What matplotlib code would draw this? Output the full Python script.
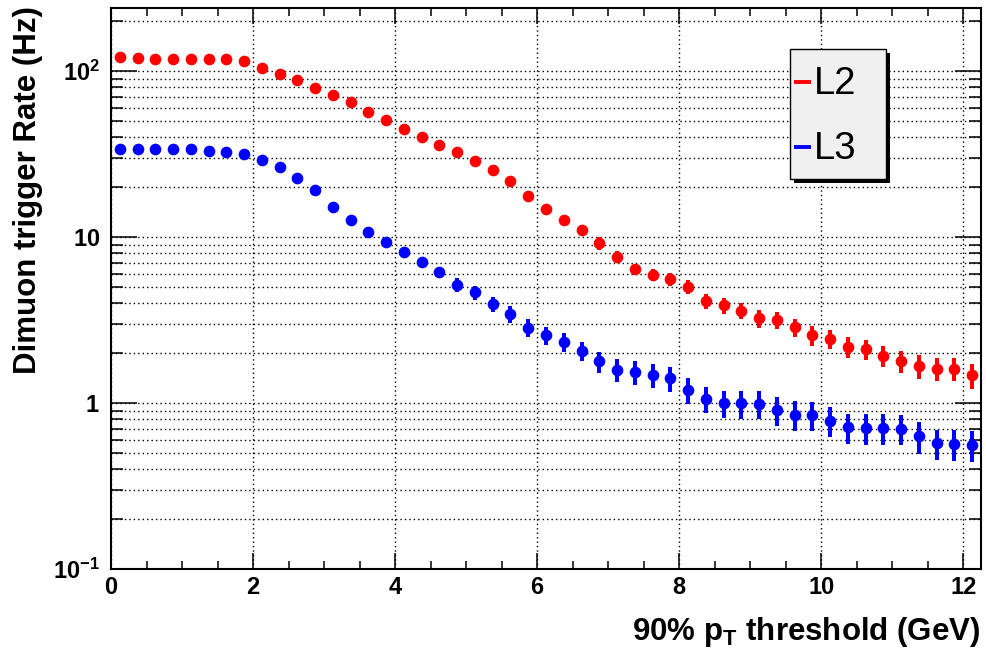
import matplotlib
matplotlib.use('Agg')
import matplotlib.pyplot as plt
from matplotlib.patches import Rectangle
from matplotlib.lines import Line2D
from matplotlib.ticker import FixedLocator, FixedFormatter, MultipleLocator, NullFormatter, LogLocator

plt.rcParams.update({
    'font.family': ['Liberation Sans', 'DejaVu Sans'],
    'mathtext.fontset': 'custom',
    'mathtext.rm': 'Liberation Sans:bold',
    'mathtext.it': 'Liberation Sans:bold',
    'mathtext.bf': 'Liberation Sans:bold',
    'mathtext.sf': 'Liberation Sans:bold',
    'mathtext.default': 'rm',
})

# ---------------- data ----------------
threshold = [0.125, 0.375, 0.625, 0.875, 1.125, 1.375, 1.625, 1.875, 2.125, 2.375,
             2.625, 2.875, 3.125, 3.375, 3.625, 3.875, 4.125, 4.375, 4.625, 4.875,
             5.125, 5.375, 5.625, 5.875, 6.125, 6.375, 6.625, 6.875, 7.125, 7.375,
             7.625, 7.875, 8.125, 8.375, 8.625, 8.875, 9.125, 9.375, 9.625, 9.875,
             10.125, 10.375, 10.625, 10.875, 11.125, 11.375, 11.625, 11.875, 12.125]

l2_rate = [121, 120, 119, 119, 118, 118, 118, 115, 105, 96,
           88, 79, 72, 65, 57, 51, 45, 40, 36, 32.5,
           28.9, 25.5, 21.8, 17.7, 14.8, 12.7, 11.0, 9.2, 7.6, 6.4,
           5.9, 5.56, 5.0, 4.1, 3.88, 3.61, 3.24, 3.16, 2.87, 2.56,
           2.44, 2.19, 2.11, 1.92, 1.79, 1.67, 1.61, 1.61, 1.47]
l2_err = [2, 2, 2, 2, 2, 2, 2, 2, 2, 2,
          2, 2, 2, 2, 2, 2, 1.5, 1.5, 1.5, 1.3,
          1.2, 1.1, 1.0, 0.9, 0.8, 0.7, 0.76, 0.83, 0.63, 0.53,
          0.49, 0.51, 0.48, 0.43, 0.43, 0.41, 0.40, 0.38, 0.36, 0.34,
          0.33, 0.31, 0.30, 0.28, 0.27, 0.27, 0.25, 0.25, 0.25]

l3_rate = [34.0, 34.0, 34.0, 34.0, 34.0, 33.0, 32.5, 31.7, 29.3, 26.6,
           22.7, 19.3, 15.2, 12.6, 10.7, 9.36, 8.15, 7.1, 6.15, 5.17,
           4.64, 3.94, 3.43, 2.85, 2.56, 2.34, 2.06, 1.78, 1.58, 1.54,
           1.47, 1.41, 1.20, 1.06, 0.995, 0.995, 0.99, 0.91, 0.85, 0.845,
           0.78, 0.715, 0.71, 0.705, 0.70, 0.632, 0.571, 0.565, 0.56]
l3_err = [1.0, 1.0, 1.0, 1.0, 1.0, 1.0, 1.0, 1.0, 1.0, 0.9,
          0.8, 0.7, 0.6, 0.5, 0.5, 0.45, 0.42, 0.39, 0.38, 0.48,
          0.45, 0.41, 0.39, 0.35, 0.33, 0.31, 0.28, 0.26, 0.25, 0.25,
          0.24, 0.24, 0.21, 0.195, 0.187, 0.194, 0.19, 0.18, 0.173, 0.17,
          0.16, 0.149, 0.148, 0.15, 0.143, 0.136, 0.12, 0.119, 0.118]

series_names = ['L2', 'L3']
series_colors = ['#ff0000', '#0000ff']

ytick_vals = [0.1, 1, 10, 100]
ytick_labels = ['$10^{-1}$', '$1$', '$10$', '$10^{2}$']
xtick_vals = [0, 2, 4, 6, 8, 10, 12]
xtick_labels = ['0', '2', '4', '6', '8', '10', '12']

xlabel = '90% $p_{T}$ threshold (GeV)'
ylabel = 'Dimuon trigger Rate (Hz)'

# ---------------- figure ----------------
W, H = 986, 657
fig = plt.figure(figsize=(W / 100, H / 100), dpi=100)
ax = fig.add_axes([111 / W, 1 - 569 / H, (981 - 111) / W, (569 - 8) / H])

ax.set_yscale('log')
ax.set_xlim(0, 12.25)
ax.set_ylim(0.1, 240)

for rate, err, col in zip([l2_rate, l3_rate], [l2_err, l3_err], series_colors):
    ax.errorbar(threshold, rate, yerr=err, fmt='o', color=col, ms=8.4, mec=col, mew=0,
                elinewidth=2.9, capsize=0, zorder=3)

# ticks
ax.xaxis.set_major_locator(FixedLocator(xtick_vals))
ax.xaxis.set_major_formatter(FixedFormatter(xtick_labels))
ax.xaxis.set_minor_locator(MultipleLocator(0.5))
ax.yaxis.set_major_locator(FixedLocator(ytick_vals))
ax.yaxis.set_major_formatter(FixedFormatter(ytick_labels))
ax.yaxis.set_minor_locator(LogLocator(base=10, subs=[2, 3, 4, 5, 6, 7, 8, 9], numticks=20))
ax.yaxis.set_minor_formatter(NullFormatter())

ax.tick_params(axis='x', which='major', direction='in', length=11.5, width=1.1,
               top=True, bottom=True, pad=5, labelsize=17)
ax.tick_params(axis='x', which='minor', direction='in', length=5.8, width=1.1,
               top=True, bottom=True)
ax.tick_params(axis='y', which='major', direction='in', length=18.5, width=1.1,
               left=True, right=True, pad=8, labelsize=17)
ax.tick_params(axis='y', which='minor', direction='in', length=8.8, width=1.1,
               left=True, right=True)
for lbl in ax.get_xticklabels():
    lbl.set_fontweight('bold')

for sp in ax.spines.values():
    sp.set_linewidth(1.5)

# grid
gstyle = dict(color='black', linewidth=1.0, linestyle=(0, (1.0, 2.2)))
ax.xaxis.grid(True, which='major', **gstyle)
ax.yaxis.grid(True, which='both', **gstyle)
ax.set_axisbelow(True)

# axis titles
fig.text(980 / W, 1 - 640 / H, xlabel, ha='right', va='baseline',
         fontsize=22.5, fontweight='bold')
fig.text(28 / W, 1 - 6 / H, ylabel, rotation=90, ha='center', va='top',
         fontsize=22.5, fontweight='bold')

# legend (ROOT style box with shadow)
bx0, bx1, by0, by1 = 790, 886, 49, 179
fig.patches.append(Rectangle(((bx0 + 4) / W, 1 - (by1 + 4) / H), (bx1 - bx0) / W, (by1 - by0) / H,
                             transform=fig.transFigure, facecolor='black', edgecolor='black',
                             lw=0, zorder=5))
fig.patches.append(Rectangle((bx0 / W, 1 - by1 / H), (bx1 - bx0) / W, (by1 - by0) / H,
                             transform=fig.transFigure, facecolor='#f0f0f0', edgecolor='black',
                             lw=1.0, zorder=6))
entry_y = [82, 147]
for name, col, ey in zip(series_names, series_colors, entry_y):
    fig.lines.append(Line2D([794 / W, 811 / W], [1 - ey / H, 1 - ey / H], transform=fig.transFigure,
                            color=col, lw=2.8, zorder=7, solid_capstyle='butt'))
    fig.text(814 / W, 1 - (ey + 2) / H, name, ha='left', va='center', fontsize=27.5,
             color='black', zorder=8)

fig.savefig('out.png', dpi=100)
